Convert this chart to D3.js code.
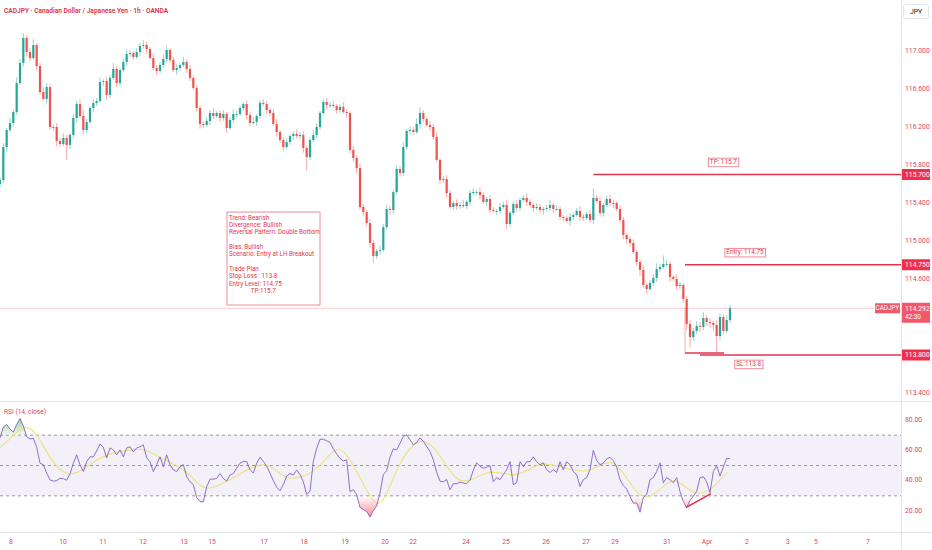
<!DOCTYPE html>
<html>
<head>
<meta charset="utf-8">
<script src="https://cdn.jsdelivr.net/npm/d3@7"></script>
<style>
  body { margin: 0; background: #fff; }
  svg { display: block; font-family: "Liberation Sans Narrow", Roboto, sans-serif; }
</style>
</head>
<body>
<svg id="chart" width="932" height="550"></svg>
<script>
// CADJPY 1h (drawn as 2h bars)
const firstOpen = 115.60;
const closes = [
  115.642,115.989,116.168,116.242,116.358,116.663,116.874,117.137,116.989,116.926,
  117.063,116.842,116.568,116.495,116.621,116.2,116.2,116.053,116.021,116.084,
  116.011,116.116,116.295,116.442,116.316,116.168,116.253,116.4,116.453,116.474,
  116.674,116.684,116.537,116.716,116.811,116.663,116.8,116.884,116.968,116.979,
  116.937,116.989,117.053,117.063,117.021,116.926,116.821,116.789,116.853,116.916,
  117.011,116.905,116.8,116.821,116.853,116.884,116.811,116.716,116.611,116.4,
  116.232,116.221,116.263,116.347,116.316,116.347,116.295,116.337,116.189,116.274,
  116.337,116.337,116.4,116.442,116.326,116.242,116.253,116.316,116.453,116.442,
  116.379,116.347,116.232,116.147,116.063,115.989,116.042,116.105,116.126,116.105,
  116.116,115.979,115.884,116.063,116.116,116.2,116.347,116.463,116.432,116.432,
  116.421,116.379,116.411,116.358,116.347,115.958,115.874,115.768,115.358,115.305,
  115.189,114.979,114.842,114.895,114.905,115.147,115.337,115.326,115.516,115.758,
  115.716,115.989,116.158,116.168,116.147,116.232,116.347,116.284,116.221,116.2,
  116.095,115.853,115.642,115.653,115.505,115.358,115.4,115.368,115.379,115.368,
  115.411,115.505,115.516,115.516,115.484,115.411,115.442,115.326,115.316,115.316,
  115.358,115.379,115.179,115.295,115.389,115.347,115.432,115.453,115.411,115.379,
  115.347,115.358,115.326,115.337,115.347,115.379,115.337,115.337,115.253,115.242,
  115.211,115.253,115.274,115.316,115.253,115.242,115.284,115.221,115.453,115.421,
  115.295,115.379,115.442,115.4,115.4,115.337,115.221,115.063,115.021,114.979,
  114.884,114.779,114.695,114.537,114.495,114.558,114.611,114.705,114.726,114.758,
  114.758,114.621,114.6,114.526,114.537,114.389,114.126,113.989,114.053,114.105,
  114.095,114.189,114.147,114.137,114.116,114.0,114.2,114.053,114.168,114.292
];
// wick extensions beyond the body, in pips
const upWick = [
  3,4,2,5,3,6,4,5,3,4,6,2,3,5,4,3,2,4,3,5,
  3,2,4,3,5,6,3,2,4,3,5,2,4,3,6,3,2,4,5,3,
  2,4,3,5,3,2,4,3,3,5,4,2,3,4,2,5,3,4,2,3,
  3,2,4,3,5,2,3,4,2,3,5,4,3,2,4,3,5,2,3,4,
  3,2,4,5,2,3,4,2,3,5,3,4,2,3,5,4,2,3,4,3,
  4,2,3,5,3,2,4,3,5,3,2,4,3,2,5,3,4,3,2,4,
  3,5,2,4,3,6,6,3,2,4,3,5,2,3,4,3,2,4,3,5,
  2,3,4,2,5,3,2,4,3,2,4,3,5,2,3,4,2,3,5,3,
  2,4,3,2,3,5,2,4,3,2,3,4,2,3,5,3,2,4,10,3,
  4,2,3,5,3,2,4,3,2,3,4,2,3,5,2,3,4,6,3,9,
  4,3,2,5,3,2,3,4,3,5,4,6,3,4,2,5,4,3,5,3
];
const lowWick = [
  4,3,5,2,4,3,2,4,5,3,2,4,3,2,5,3,4,6,3,2,
  16,4,3,5,2,4,3,2,4,3,2,4,5,3,2,4,3,2,4,3,
  3,2,4,3,5,2,3,4,2,3,4,3,2,5,3,2,4,3,2,4,
  5,3,2,4,3,2,4,3,5,2,3,4,2,3,5,3,2,4,3,2,
  4,3,2,5,3,4,2,3,4,2,3,5,14,3,2,4,3,2,5,3,
  2,4,3,2,5,3,4,6,3,4,3,5,7,3,4,2,3,5,4,3,
  4,3,2,4,3,2,5,3,2,4,3,2,4,3,5,2,3,4,3,2,
  3,4,2,3,5,2,4,3,2,4,3,2,5,3,2,4,3,2,4,3,
  4,2,3,5,2,3,4,2,3,4,2,5,3,2,4,3,2,3,4,2,
  3,4,2,3,5,2,3,4,5,3,2,4,6,3,5,2,3,4,3,2,
  3,5,2,4,3,4,6,11,4,3,5,3,4,5,6,17,4,3,2,3
];
const rsi = [
  68.2,75.4,77,74,72,77,81,76,69,67.5,68,62,51.5,50.5,45,40.5,39.7,40,41.6,41.3,
  40.3,44.5,51.5,57,50.5,46,52.5,55.7,55.7,59.6,64.2,62,55,61.6,60.3,57,60.3,55.7,61.6,62.3,
  59,61.6,62.3,63.6,55,52.5,46,50.5,55.7,49.2,57,50.5,47.2,46,49.2,50.5,42.6,39.3,37.4,28.9,
  26.2,26,36,41,41,41.5,44.7,41.4,39.7,43.7,44.7,48.2,51.5,52.7,52.7,47.2,45,51.5,55.4,52.8,
  49.5,44.9,40,35.7,33.4,37.4,43,44.7,43.7,47,44,39.3,30.8,33,52.7,61.3,67.3,67.3,66.3,65.3,
  61,57.6,54.7,53,53.8,32.8,34.1,30.8,22.3,21,19.7,16,20.3,23.4,32,44,46.6,55.4,61,60.3,
  64.6,69.2,70.2,67,63.6,65.2,68.2,65.9,62.6,59.3,53.8,45.6,39.6,39.3,40.7,34,38,38,39,38.4,
  38,40.3,47,51.8,49.5,48.2,48.8,50,39.3,42,40.7,44,47.2,52.5,37.4,38.6,52.5,49.2,52.5,52.5,
  55.7,52.5,50.5,51.8,47.2,45.4,47.2,45.4,52.5,47.2,52.5,50.5,46,44,36.2,40.7,42,47.2,60,53.4,
  50.5,51.5,54.4,55.4,53.2,49,40.7,36.8,34.5,29.5,25.2,25.2,19.2,28.9,30.8,40.7,42,46,51.8,38.6,
  42,40.7,38.6,42,32.8,26.2,22.3,26.8,29.8,33,42,42.6,39.3,32.1,46,50,43,49,54.7,54.5
];
// RSI-based moving average (yellow), read at a few bars
const maIdx = [0,5,7.5,11,15,20,25,30,35,40,43,48,53,57,60,63,68,74,79,82,86,90,94,98,101,104,108,111,113.5,116,120,124,127.5,131,135,138,142,146,150,155,160,163,168,172,176,180,184,188,191,194,198,202,206,209,213,216,218.2];
const maVal = [61.6,72,76.7,72,53.8,42,47.2,55.7,59,60.3,61.6,55,50.5,44,36.2,34.1,39.3,47.2,51.8,48.5,40.7,42,45.4,55,62.3,58.3,42,29.5,22.3,30.8,52.5,64.9,67,60.3,46,38.6,40.7,46,45.4,42.6,49.2,51.8,49.2,47.2,45.4,50.5,53.8,42,32.1,27.5,34.1,42.6,34.9,30.8,32.8,40.7,45.4];

const dayLabels = ["8","10","11","12","13","15","17","18","19","20","22","24","25","26","27","29","31","Apr","2","3","5","7"];
const dayPos = [3.3,18.9,30.9,42.9,55.2,63.6,79.2,91.2,103.5,115.5,123.9,139.8,151.8,163.8,175.8,184.5,200.1,212.1,224.1,236.4,244.8,260.4];
const priceTicks = [117.0,116.6,116.2,115.8,115.4,115.0,114.6,113.4];
const rsiTicks = [80,60,40,20];

const levelNames = ["TP: 115.7","Entry: 114.75","SL:113.8"];
const levelPrices = [115.7,114.75,113.8];
const levelStart = [178,205.5,210];
const levelTagAt = [217,223.5,224.6];

const noteLines = ["Trend: Bearish","Divergence: Bullish","Reversal Pattern: Double Bottom","",
  "Bias: Bullish","Scenario: Entry at LH Breakout","","Trade Plan","Stop Loss : 113.8",
  "Entry Level: 114.75","              TP:115.7"];

const RED = "#e0364f", UP = "#26a69a", DOWN = "#ef5350", PINK = "#e0436a", GRID = "#e0e3eb";
const W = 932, H = 550, axisX = 901;

const svg = d3.select("#chart");
const x = d3.scaleLinear().domain([0, 270]).range([0, 900]);
const y = d3.scaleLinear().domain([113.4, 117.0]).range([393, 51]);
const ry = d3.scaleLinear().domain([20, 80]).range([511, 420]);

const bars = closes.map((c, i) => {
  const o = i === 0 ? firstOpen : closes[i - 1];
  return { i, o, c, h: Math.max(o, c) + upWick[i] / 100, l: Math.min(o, c) - lowWick[i] / 100 };
});

const defs = svg.append("defs");
defs.append("clipPath").attr("id", "main").append("rect").attr("x", 0).attr("y", 0).attr("width", axisX).attr("height", 400);
defs.append("clipPath").attr("id", "above70").append("rect").attr("x", 0).attr("y", 402).attr("width", axisX).attr("height", ry(70) - 402);
defs.append("clipPath").attr("id", "below30").append("rect").attr("x", 0).attr("y", ry(30)).attr("width", axisX).attr("height", 531 - ry(30));
const gUp = defs.append("linearGradient").attr("id", "gUp").attr("gradientUnits", "userSpaceOnUse")
  .attr("x1", 0).attr("x2", 0).attr("y1", ry(84)).attr("y2", ry(70));
gUp.append("stop").attr("offset", 0).attr("stop-color", "#4caf50").attr("stop-opacity", 0.75);
gUp.append("stop").attr("offset", 1).attr("stop-color", "#4caf50").attr("stop-opacity", 0.05);
const gDn = defs.append("linearGradient").attr("id", "gDn").attr("gradientUnits", "userSpaceOnUse")
  .attr("x1", 0).attr("x2", 0).attr("y1", ry(30)).attr("y2", ry(5));
gDn.append("stop").attr("offset", 0).attr("stop-color", "#f23645").attr("stop-opacity", 0);
gDn.append("stop").attr("offset", 1).attr("stop-color", "#f23645").attr("stop-opacity", 1);

// frame lines
svg.append("line").attr("x1", axisX + 0.5).attr("x2", axisX + 0.5).attr("y1", 0).attr("y2", H).attr("stroke", GRID);
svg.append("line").attr("x1", 0).attr("x2", W).attr("y1", 401.5).attr("y2", 401.5).attr("stroke", GRID);
svg.append("line").attr("x1", 0).attr("x2", W).attr("y1", 532.5).attr("y2", 532.5).attr("stroke", GRID);

// title
svg.append("text").attr("x", 4).attr("y", 13).attr("fill", "#d8304d").attr("font-size", 6.6).attr("font-weight", 600)
  .text("CADJPY · Canadian Dollar / Japanese Yen · 1h · OANDA");

// ---- price pane
const main = svg.append("g").attr("clip-path", "url(#main)");
const last = bars[bars.length - 1];
main.append("line").attr("x1", 0).attr("x2", 874).attr("y1", y(last.c)).attr("y2", y(last.c))
  .attr("stroke", DOWN).attr("stroke-opacity", 0.3);

const candle = main.selectAll("g.c").data(bars).join("g").attr("class", "c");
candle.append("line")
  .attr("x1", d => x(d.i)).attr("x2", d => x(d.i))
  .attr("y1", d => y(d.h)).attr("y2", d => y(d.l))
  .attr("stroke", d => d.c >= d.o ? UP : DOWN).attr("stroke-opacity", 0.5).attr("stroke-width", 1);
candle.append("rect")
  .attr("x", d => x(d.i) - 1.1).attr("width", 2.2)
  .attr("y", d => y(Math.max(d.o, d.c)))
  .attr("height", d => Math.max(0.8, Math.abs(y(d.o) - y(d.c))))
  .attr("fill", d => d.c >= d.o ? UP : DOWN);

// double bottom bracket
main.append("line").attr("x1", x(205.5)).attr("x2", x(205.5)).attr("y1", y(last.c)).attr("y2", y(113.82))
  .attr("stroke", DOWN).attr("stroke-opacity", 0.5);
main.append("line").attr("x1", x(205.5)).attr("x2", x(217.2)).attr("y1", y(113.82)).attr("y2", y(113.82))
  .attr("stroke", RED).attr("stroke-width", 1.5);

// trade levels
levelPrices.forEach((p, k) => {
  main.append("line").attr("x1", x(levelStart[k])).attr("x2", axisX).attr("y1", y(p)).attr("y2", y(p))
    .attr("stroke", RED).attr("stroke-width", 1.6);
  const ty = k === 2 ? y(p) + 9.5 : y(p) - 12;
  const t = main.append("text").attr("x", x(levelTagAt[k])).attr("y", ty).attr("text-anchor", "middle")
    .attr("dominant-baseline", "middle").attr("font-size", 6.4).attr("fill", RED).text(levelNames[k]);
  const bb = t.node().getBBox();
  main.insert("rect", () => t.node()).attr("x", bb.x - 1.5).attr("y", bb.y).attr("width", bb.width + 3).attr("height", bb.height + 0.5)
    .attr("fill", "#fff").attr("stroke", "#f08a9a").attr("stroke-width", 1);
});

// note box
main.append("rect").attr("x", x(68.1)).attr("y", y(115.305)).attr("width", x(96) - x(68.1)).attr("height", y(114.326) - y(115.305))
  .attr("fill", "#fff").attr("stroke", "#f08a9a");
main.append("g").selectAll("text").data(noteLines).join("text")
  .attr("x", x(68.1) + 2).attr("y", (d, k) => y(115.305) + 7.5 + k * 7.35)
  .attr("font-size", 6.3).attr("fill", RED).style("white-space", "pre").text(d => d);

// price axis
svg.append("g").selectAll("text").data(priceTicks).join("text")
  .attr("x", 905).attr("y", d => y(d)).attr("dominant-baseline", "middle")
  .attr("font-size", 6.8).attr("fill", PINK).text(d => d.toFixed(3));

levelPrices.forEach(p => {
  svg.append("rect").attr("x", 902).attr("y", y(p) - 5.5).attr("width", 28).attr("height", 11).attr("fill", "#f0304a");
  svg.append("text").attr("x", 905).attr("y", y(p) + 0.5).attr("dominant-baseline", "middle").attr("font-size", 6.8)
    .attr("fill", "#fff").text(p.toFixed(3));
});
svg.append("rect").attr("x", 902).attr("y", y(last.c) - 5.5).attr("width", 28).attr("height", 20).attr("fill", "#f05a68");
svg.append("text").attr("x", 905).attr("y", y(last.c) + 0.5).attr("dominant-baseline", "middle").attr("font-size", 6.8)
  .attr("fill", "#fff").text(last.c.toFixed(3));
svg.append("text").attr("x", 905).attr("y", y(last.c) + 9.5).attr("dominant-baseline", "middle").attr("font-size", 6.4)
  .attr("fill", "#fff").text("42:30");
svg.append("rect").attr("x", 875).attr("y", y(last.c) - 5).attr("width", 25).attr("height", 10).attr("fill", "#f05a68");
svg.append("text").attr("x", 887.5).attr("y", y(last.c) + 0.5).attr("text-anchor", "middle").attr("dominant-baseline", "middle")
  .attr("font-size", 6.4).attr("fill", "#fff").text("CADJPY");

svg.append("rect").attr("x", 903.5).attr("y", 4.5).attr("width", 25).attr("height", 14).attr("rx", 2)
  .attr("fill", "#fff").attr("stroke", GRID);
svg.append("text").attr("x", 916).attr("y", 12).attr("text-anchor", "middle").attr("dominant-baseline", "middle")
  .attr("font-size", 6.8).attr("fill", "#131722").text("JPY");

// ---- RSI pane
svg.append("text").attr("x", 4).attr("y", 414).attr("font-size", 6.6).attr("fill", PINK).text("RSI (14, close)");
svg.append("rect").attr("x", 0).attr("y", ry(70)).attr("width", axisX).attr("height", ry(30) - ry(70))
  .attr("fill", "#7e57c2").attr("fill-opacity", 0.09);
[70, 50, 30].forEach(v => {
  svg.append("line").attr("x1", 0).attr("x2", axisX).attr("y1", ry(v)).attr("y2", ry(v))
    .attr("stroke", "#9598a1").attr("stroke-dasharray", "3,3").attr("stroke-width", 1);
});

svg.append("path").datum(rsi).attr("clip-path", "url(#above70)")
  .attr("d", d3.area().x((d, i) => x(i)).y0(ry(70)).y1(d => ry(d)))
  .attr("fill", "url(#gUp)");
svg.append("path").datum(rsi).attr("clip-path", "url(#below30)")
  .attr("d", d3.area().x((d, i) => x(i)).y0(ry(30)).y1(d => ry(d)))
  .attr("fill", "url(#gDn)");

svg.append("path").datum(maIdx.map((k, j) => [k, maVal[j]]))
  .attr("d", d3.line().x(d => x(d[0])).y(d => ry(d[1])).curve(d3.curveBasis))
  .attr("fill", "none").attr("stroke", "#ece27a").attr("stroke-width", 1.1);
svg.append("path").datum(rsi)
  .attr("d", d3.line().x((d, i) => x(i)).y(d => ry(d)))
  .attr("fill", "none").attr("stroke", "#7e57c2").attr("stroke-opacity", 0.85).attr("stroke-width", 1);

// bullish divergence
svg.append("line").attr("x1", x(205.8)).attr("x2", x(213.3)).attr("y1", ry(22.3)).attr("y2", ry(31.5))
  .attr("stroke", RED).attr("stroke-width", 1.5);

svg.append("g").selectAll("text").data(rsiTicks).join("text")
  .attr("x", 905).attr("y", d => ry(d)).attr("dominant-baseline", "middle")
  .attr("font-size", 6.8).attr("fill", PINK).text(d => d.toFixed(2));

// ---- time axis
svg.append("g").selectAll("text").data(dayLabels).join("text")
  .attr("x", (d, k) => x(dayPos[k])).attr("y", 542).attr("text-anchor", "middle").attr("dominant-baseline", "middle")
  .attr("font-size", 6.8).attr("fill", PINK).text(d => d);
</script>
</body>
</html>
